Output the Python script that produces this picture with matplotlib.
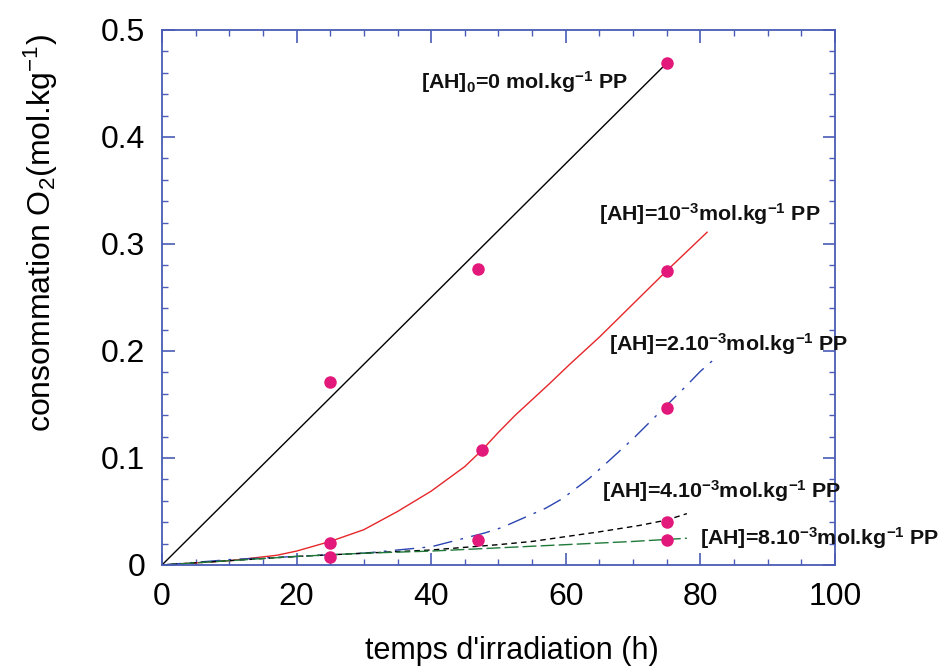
import numpy as np
import matplotlib
matplotlib.use("Agg")
import matplotlib.pyplot as plt
from matplotlib.ticker import MultipleLocator

plt.rcParams['font.family'] = ['Liberation Sans', 'DejaVu Sans']
plt.rcParams['mathtext.fontset'] = 'custom'
plt.rcParams['mathtext.rm'] = 'Liberation Sans'
plt.rcParams['mathtext.bf'] = 'Liberation Sans:bold'
plt.rcParams['mathtext.it'] = 'Liberation Sans:italic'

# measured points (t in h, O2 in mol/kg)
pts_t = [25, 47, 75, 25, 47.5, 75, 25, 47, 75, 75, 75]
pts_o2 = [0.171, 0.277, 0.469, 0.021, 0.107, 0.275, 0.007, 0.023, 0.147, 0.040, 0.023]

# model curves
t0 = [0, 75]
c0 = [0, 0.469]

t1 = [0, 10, 17, 20, 25, 30, 35, 40, 45, 47.5, 50, 52.5, 57.5, 60.5, 65, 75, 81]
c1 = [0, 0.004, 0.009, 0.013, 0.022, 0.033, 0.050, 0.069, 0.092, 0.107, 0.124, 0.140, 0.169, 0.187, 0.213, 0.275, 0.311]

t2 = [0, 10, 20, 30, 40, 48, 50.5, 57, 59.5, 63.5, 66, 70, 74, 78, 80, 82]
c2 = [0, 0.005, 0.008, 0.011, 0.017, 0.030, 0.035, 0.053, 0.062, 0.081, 0.095, 0.118, 0.143, 0.168, 0.181, 0.192]

t4 = [0, 10, 20, 30, 40, 50, 55, 65, 71, 75, 78]
c4 = [0, 0.004, 0.008, 0.011, 0.014, 0.019, 0.022, 0.031, 0.037, 0.042, 0.048]

t8 = [0, 10, 20, 30, 40, 50, 60, 70, 78]
c8 = [0, 0.004, 0.008, 0.011, 0.013, 0.016, 0.019, 0.022, 0.025]

labels = [r'[AH]$_{\mathbf{0}}$=0 mol.kg$^{\mathbf{-1}}$ PP',
          r'[AH]=10$^{\mathbf{-3}}$mol.kg$^{\mathbf{-1}}$ PP',
          r'[AH]=2.10$^{\mathbf{-3}}$mol.kg$^{\mathbf{-1}}$ PP',
          r'[AH]=4.10$^{\mathbf{-3}}$mol.kg$^{\mathbf{-1}}$ PP',
          r'[AH]=8.10$^{\mathbf{-3}}$mol.kg$^{\mathbf{-1}}$ PP']
label_x = [38.5, 64.9, 66.4, 65.4, 80.0]
label_y = [0.445, 0.322, 0.200, 0.0625, 0.019]

xticks = [0, 20, 40, 60, 80, 100]
xticklabels = ['0', '20', '40', '60', '80', '100']
yticks = [0, 0.1, 0.2, 0.3, 0.4, 0.5]
yticklabels = ['0', '0.1', '0.2', '0.3', '0.4', '0.5']

axcol = '#4a5cb5'

fig = plt.figure(figsize=(9.39, 6.71), dpi=100)
ax = fig.add_axes([0.1725, 0.158, 0.7167, 0.7973])

ax.plot(t0, c0, color='black', lw=1)
ax.plot(t1, c1, color='#e5262a', lw=1)
ax.plot(t2, c2, color='#2a44b0', lw=1, dashes=(14, 6, 2, 6))
ax.plot(t4, c4, color='black', lw=1, dashes=(4, 3))
ax.plot(t8, c8, color='#1f7a3a', lw=1, dashes=(10, 3))
ax.plot(pts_t, pts_o2, 'o', color='#e2197a', ms=8, zorder=5)

for s, x, y in zip(labels, label_x, label_y):
    ax.text(x, y, s, fontsize=15.4, fontweight='bold', color='#111111')

ax.set_xlim(0, 100)
ax.set_ylim(0, 0.5)
ax.set_xticks(xticks)
ax.set_xticklabels(xticklabels)
ax.set_yticks(yticks)
ax.set_yticklabels(yticklabels)
ax.xaxis.set_minor_locator(MultipleLocator(5))
ax.yaxis.set_minor_locator(MultipleLocator(0.02))
ax.tick_params(which='both', direction='in', top=True, right=True,
               color=axcol, labelsize=23, pad=12)
ax.tick_params(which='major', length=9, width=1.2)
ax.tick_params(which='minor', length=4.5, width=1)
for sp in ax.spines.values():
    sp.set_color(axcol)
    sp.set_linewidth(1.3)

ax.set_xlabel("temps d'irradiation (h)", fontsize=22)
ax.xaxis.set_label_coords(0.52, -0.133)
ax.set_ylabel(r'consommation O$_2$(mol.kg$^{-1}$)', fontsize=23)
ax.yaxis.set_label_coords(-0.152, 0.62)

fig.savefig('out.png', dpi=100)
